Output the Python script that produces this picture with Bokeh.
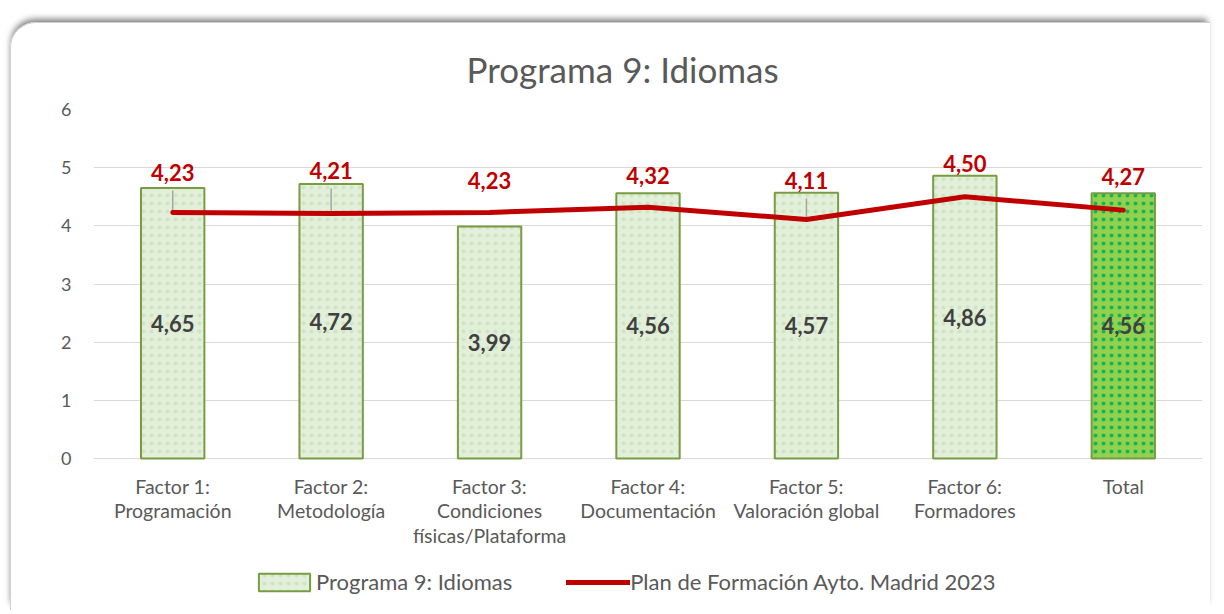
from bokeh.plotting import figure
from bokeh.models import ColumnDataSource, FactorRange, Range1d, FixedTicker, Legend, LegendItem
from bokeh.core.properties import value
from bokeh.embed import file_html
from bokeh.resources import INLINE

# ---- data ----
categories = ["Factor 1:\nProgramación", "Factor 2:\nMetodología",
              "Factor 3:\nCondiciones\nfísicas/Plataforma", "Factor 4:\nDocumentación",
              "Factor 5:\nValoración global", "Factor 6:\nFormadores", "Total"]
programa = [4.65, 4.72, 3.99, 4.56, 4.57, 4.86, 4.56]
plan = [4.23, 4.21, 4.23, 4.32, 4.11, 4.50, 4.27]
y_ticks = [0, 1, 2, 3, 4, 5, 6]
title_text = "Programa 9: Idiomas"
series_bar = "Programa 9: Idiomas"
series_line = "Plan de Formación Ayto. Madrid 2023"

# ---- style ----
FONT = "Lato"
W, H = 1200, 588
MB_L, MB_R, MB_T, MB_B = 82, 9, 86, 4
value_axis_px = 349                     # pixel height of the 0..6 value band
unit_px = value_axis_px / (y_ticks[-1] - y_ticks[0])
frame_h = H - MB_T - MB_B
y_bottom = y_ticks[-1] - frame_h / unit_px   # room under 0 for category labels + legend
label_offsets_px = [40, 43, 32, 32, 39, 33, 34]   # Excel label placement (style)
light_fill, light_hatch = "#e2efda", "#cde2bb"
total_fill, total_hatch = "#92d050", "#00b050"
bar_line = "#789c44"
red = "#c00000"
grey_txt = "#595959"

def fmt(v):
    return f"{v:.2f}".replace(".", ",")

n = len(categories)
fills = [light_fill] * (n - 1) + [total_fill]
hatches = [light_hatch] * (n - 1) + [total_hatch]

bar_src = ColumnDataSource(dict(x=categories, top=programa, half=[v / 2 for v in programa],
                                lbl=[fmt(v) for v in programa], fill=fills, hatch=hatches))
line_src = ColumnDataSource(dict(x=categories, y=plan, lbl=[fmt(v) for v in plan],
                                 off=[-o for o in label_offsets_px]))
lead_idx = [i for i, o in enumerate(label_offsets_px) if o > 36]
lead_src = ColumnDataSource(dict(
    x=[categories[i] for i in lead_idx],
    y0=[plan[i] for i in lead_idx],
    y1=[plan[i] + (label_offsets_px[i] - 18) / unit_px for i in lead_idx]))
cat_src = ColumnDataSource(dict(x=categories, y=[y_ticks[0]] * n, txt=categories))

p = figure(x_range=FactorRange(*categories), y_range=Range1d(y_bottom, y_ticks[-1]),
           width=W, height=H, output_backend="svg", toolbar_location=None,
           min_border_left=MB_L, min_border_right=MB_R, min_border_top=MB_T, min_border_bottom=MB_B)
p.styles = {"margin-left": "10px", "margin-top": "22px",
            "border-top": "1px solid #cfcfcf", "border-left": "1px solid #cfcfcf",
            "border-top-left-radius": "26px",
            "box-shadow": "-1px -5px 6px -2px rgba(0,0,0,0.5)", "overflow": "hidden"}
p.outline_line_color = None
p.background_fill_color = "white"
p.border_fill_color = "white"

p.title.text = title_text
p.title.align = "left"
p.title.offset = 373
p.title.text_font = FONT
p.title.text_font_size = "35px"
p.title.text_font_style = "normal"
p.title.text_color = grey_txt
p.title.standoff = 39

bars = p.vbar(x="x", top="top", width=0.4, source=bar_src, fill_color="fill",
              line_color=bar_line, line_width=2, hatch_pattern="dot", hatch_color="hatch",
              hatch_scale=8, hatch_weight=0.6, hatch_alpha=0.85)
p.text(x="x", y="half", text="lbl", source=bar_src, text_align="center", text_baseline="middle",
       text_font=value(FONT), text_font_style="bold", text_font_size="22px", text_color="#404040")

p.segment(x0="x", x1="x", y0="y0", y1="y1", source=lead_src, line_color="#a6a6a6", line_width=1.5)
ln = p.line(x="x", y="y", source=line_src, line_color=red, line_width=5, line_cap="round")
p.text(x="x", y="y", y_offset="off", text="lbl", source=line_src, text_align="center",
       text_baseline="middle", text_font=value(FONT), text_font_style="bold",
       text_font_size="22px", text_color=red)

# category labels under the value axis (x axis itself hidden so the legend fits the frame)
p.text(x="x", y="y", text="txt", source=cat_src, y_offset=16, text_align="center",
       text_baseline="top", text_font=value(FONT), text_font_size="19.5px",
       text_color=grey_txt, text_line_height=1.08)
p.xaxis.visible = False

p.xgrid.grid_line_color = None
p.ygrid.grid_line_color = "#d9d9d9"
p.ygrid.grid_line_width = 1
p.yaxis.ticker = FixedTicker(ticks=y_ticks)
ax = p.yaxis[0]
ax.axis_line_color = None
ax.major_tick_line_color = None
ax.minor_tick_line_color = None
ax.major_tick_out = 0
ax.major_tick_in = 0
ax.major_label_text_color = grey_txt
ax.major_label_text_font = FONT
ax.major_label_text_font_size = "18px"
ax.major_label_standoff = 22

legend = Legend(items=[LegendItem(label=series_bar, renderers=[bars]),
                       LegendItem(label=series_line, renderers=[ln])],
                orientation="horizontal", location=(159, 12),
                border_line_color=None, background_fill_alpha=0,
                label_text_font=FONT, label_text_font_size="22px", label_text_color=grey_txt,
                glyph_width=64, glyph_height=22, label_standoff=0, spacing=54,
                padding=0, margin=0)
p.add_layout(legend)

open("out.html", "w").write(file_html(p, INLINE))
